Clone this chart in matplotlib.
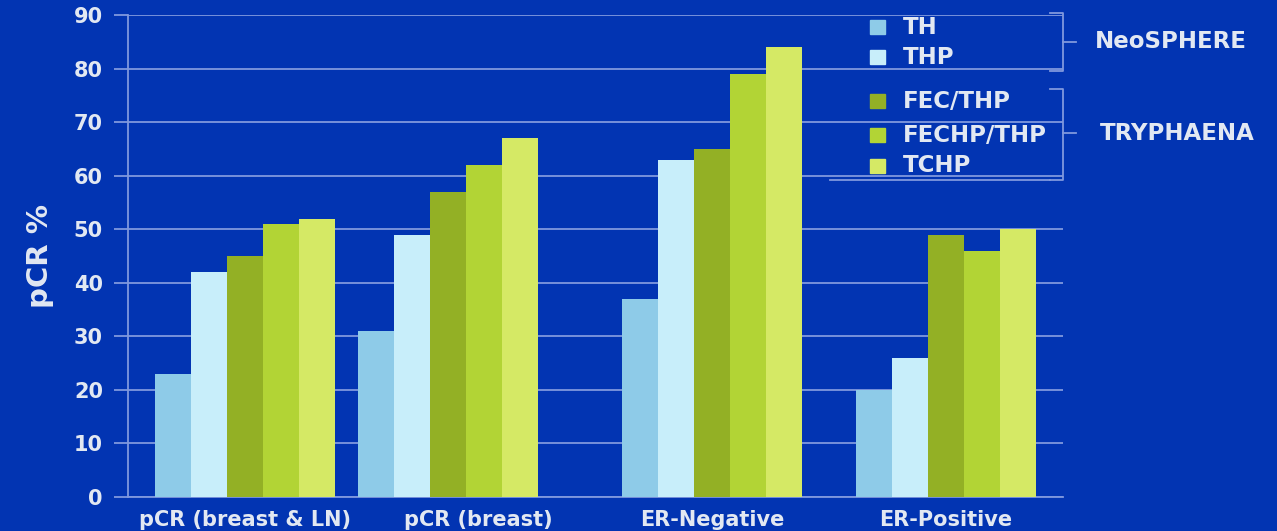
import numpy as np
import matplotlib.pyplot as plt
from matplotlib.patches import Rectangle
from matplotlib.lines import Line2D

plt.rcParams['font.family'] = ['DejaVu Sans']
plt.rcParams['font.weight'] = 'bold'

categories = ['pCR (breast & LN)', 'pCR (breast)', 'ER-Negative', 'ER-Positive']
series = ['TH', 'THP', 'FEC/THP', 'FECHP/THP', 'TCHP']
values = {
    'TH':        [23, 31, 37, 20],
    'THP':       [42, 49, 63, 26],
    'FEC/THP':   [45, 57, 65, 49],
    'FECHP/THP': [51, 62, 79, 46],
    'TCHP':      [52, 67, 84, 50],
}
colors = ['#8ecbe8', '#c8eefa', '#93b025', '#b2d435', '#d5e965']
trials = [('NeoSPHERE', 0, 2), ('TRYPHAENA', 2, 5)]

bg = '#0234b2'
fg = '#e2e8f2'
grid = '#8098de'

fig = plt.figure(figsize=(12.77, 5.31), dpi=100, facecolor=bg)
ax = fig.add_axes([0.1002, 0.064, 0.7322, 0.9078], facecolor=bg)

# group centres; the second group sits a little left of its slot
centres = np.arange(len(categories)) + 0.5
centres[1] -= 0.13
width = 0.154
for i, name in enumerate(series):
    x = centres + (i - 2) * width
    ax.bar(x, values[name], width=width, color=colors[i], zorder=3, linewidth=0)

ax.set_xlim(0, len(categories))
ax.set_ylim(0, 90)
ax.set_yticks(range(0, 91, 10))
ax.yaxis.grid(True, color=grid, linewidth=1.3, zorder=1)
ax.tick_params(axis='y', length=10, width=1.3, color=grid, labelcolor=fg, labelsize=15, pad=8)
ax.set_xticks(np.arange(len(categories)) + 0.5)
ax.set_xticklabels(categories, fontsize=15, color=fg)
ax.tick_params(axis='x', length=0, pad=9)
for side in ['top', 'right']:
    ax.spines[side].set_visible(False)
for side in ['left', 'bottom']:
    ax.spines[side].set_color(grid)
    ax.spines[side].set_linewidth(1.3)
ax.set_ylabel('pCR %', fontsize=21, color=fg, fontweight='bold', labelpad=14)

# legend squares and names
leg_y = [27, 57, 101, 135, 166]
for i, name in enumerate(series):
    yf = 1 - leg_y[i] / 531
    fig.patches.append(Rectangle((870 / 1277, yf - 7 / 531), 15 / 1277, 14 / 531,
                                 transform=fig.transFigure, color=colors[i]))
    fig.text(903 / 1277, yf, name, color=fg, fontsize=16.5, va='center', ha='left')

# brackets grouping the legend by trial
brackets = [(13, 71, 42, 1095), (89, 180, 133, 1100)]
for (label, a, b), (top, bot, mid, tx) in zip(trials, brackets):
    bx = 1063
    pts_x = [1050, bx, bx, 1050]
    pts_y = [top, top, bot, bot]
    fig.lines.append(Line2D([p / 1277 for p in pts_x], [1 - p / 531 for p in pts_y],
                            transform=fig.transFigure, color=grid, linewidth=1.3))
    fig.lines.append(Line2D([bx / 1277, 1076 / 1277], [1 - mid / 531] * 2,
                            transform=fig.transFigure, color=grid, linewidth=1.3))
    fig.text(tx / 1277, 1 - mid / 531, label, color=fg, fontsize=16.5, va='center', ha='left')

# bottom edge of the trial box reaches back across the legend
fig.lines.append(Line2D([830 / 1277, 1050 / 1277], [1 - 180 / 531] * 2,
                        transform=fig.transFigure, color=grid, linewidth=1.3))

fig.savefig('out.png', dpi=100, facecolor=bg)
